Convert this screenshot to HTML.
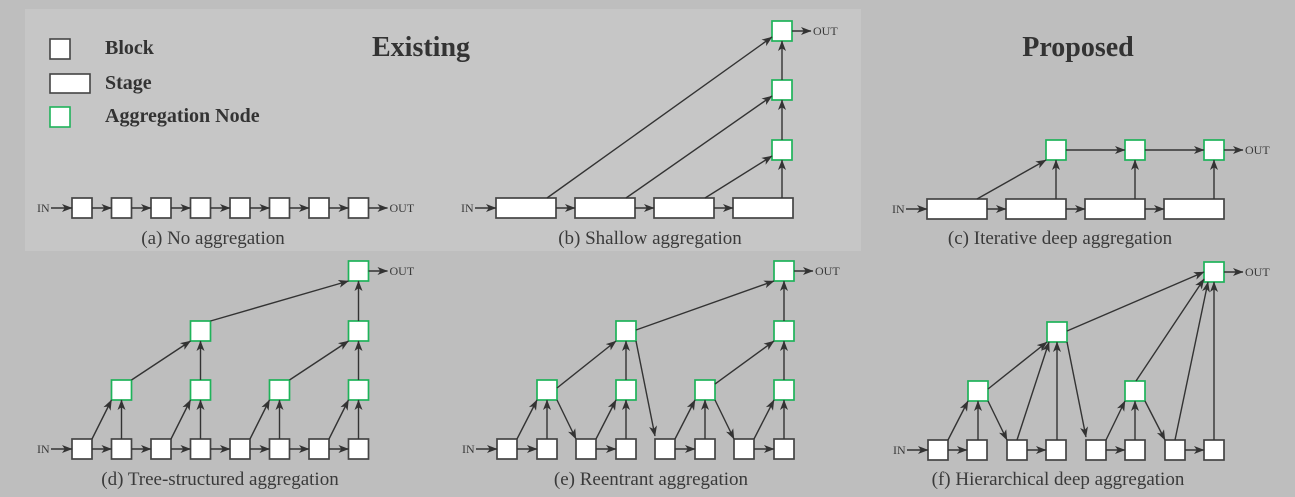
<!DOCTYPE html>
<html><head><meta charset="utf-8">
<style>
html,body{margin:0;padding:0;background:#bebebe;}
svg{display:block;}
text{font-family:"Liberation Serif",serif;fill:#3a3a3a;}
</style></head>
<body>
<svg id="fig" width="1295" height="497" viewBox="0 0 1295 497" xmlns="http://www.w3.org/2000/svg">
<defs>
<marker id="ah" markerUnits="userSpaceOnUse" markerWidth="12" markerHeight="9" refX="10" refY="4.5" orient="auto">
<path d="M0,0.5 L10.5,4.5 L0,8.5 L2.8,4.5 z" fill="#333"/>
</marker>
</defs>
<rect x="0" y="0" width="1295" height="497" fill="#bebebe"/>
<rect x="25" y="9" width="836" height="242" fill="#c6c6c6"/>
<text x="421" y="56" font-size="28" font-weight="bold" text-anchor="middle" style="fill:#333">Existing</text>
<text x="1078" y="56" font-size="28" font-weight="bold" text-anchor="middle" style="fill:#333">Proposed</text>
<g>
<rect x="50" y="39" width="20" height="20" fill="#fff" stroke="#444" stroke-width="1.6"/>
<text x="105" y="54" font-size="20" font-weight="bold" style="fill:#333">Block</text>
<rect x="50" y="74" width="40" height="19" fill="#fff" stroke="#444" stroke-width="1.6"/>
<text x="105" y="89" font-size="20" font-weight="bold" style="fill:#333">Stage</text>
<rect x="50" y="107" width="20" height="20" fill="#fff" stroke="#1fb35a" stroke-width="1.6"/>
<text x="105" y="122" font-size="20" font-weight="bold" style="fill:#333">Aggregation Node</text>
</g>
<g id="diagrams"></g>
</svg>
<script>
const NS='http://www.w3.org/2000/svg';
const root=document.getElementById('diagrams');
const blockXs=[72,111.5,151,190.5,230,269.5,309,348.5];
const rowBlocksA=198, rowBlocksD=439;
const stageXsB=[496,575,654,733];
const stageXsC=[927,1006,1085,1164];
const blockXsE=[497,537,576,616,655,695,734,774];
const blockXsF=[928,967,1007,1046,1086,1125,1165,1204];
const captions=[
 ['caption-a','(a) No aggregation',213,244],
 ['caption-b','(b) Shallow aggregation',650,244],
 ['caption-c','(c) Iterative deep aggregation',1060,244],
 ['caption-d','(d) Tree-structured aggregation',220,485],
 ['caption-e','(e) Reentrant aggregation',651,485],
 ['caption-f','(f) Hierarchical deep aggregation',1058,485]
];
function mk(tag,attrs,parent){const e=document.createElementNS(NS,tag);for(const k in attrs)e.setAttribute(k,attrs[k]);(parent||root).appendChild(e);return e;}
function box(g,x,y,w,h,green,name){
 const r=mk('rect',{x:x,y:y,width:w,height:h,fill:'#fff',stroke:green?'#1fb35a':'#444','stroke-width':1.7},g);
 
 
 return {x:x,y:y,w:w,h:h};
}
function arrow(g,x1,y1,x2,y2){
 const l=mk('line',{x1:x1,y1:y1,x2:x2,y2:y2,stroke:'#333','stroke-width':1.4,'marker-end':'url(#ah)'},g);
 
 
}
function txt(g,s,x,y,size,anchor){
 const t=mk('text',{x:x,y:y,'font-size':size,'text-anchor':anchor||'start'},g);t.textContent=s;
 
 
 return t;
}
const H=(g,a,b)=>arrow(g,a.x+a.w,a.y+a.h/2,b.x,b.y+b.h/2);
const V=(g,a,b)=>{const cx=b.x+b.w/2;arrow(g,cx,a.y,cx,b.y+b.h);};
const UR=(g,a,b)=>arrow(g,a.x+a.w,a.y,b.x,b.y+b.h);
const DR=(g,a,b)=>arrow(g,a.x+a.w,a.y+a.h,b.x,b.y);
function IN(g,b){txt(g,'IN',b.x-35,b.y+14,12);arrow(g,b.x-21,b.y+b.h/2,b.x,b.y+b.h/2);}
function OUT(g,b){arrow(g,b.x+b.w,b.y+b.h/2,b.x+b.w+19,b.y+b.h/2);txt(g,'OUT',b.x+b.w+21,b.y+b.h/2+4,12);}
function group(name){const g=mk('g',{});return g;}

// (a)
{const g=group('diagram-no-aggregation');
 const bs=blockXs.map((x,i)=>box(g,x,rowBlocksA,20,20,false,'block-'+i));
 IN(g,bs[0]);for(let i=0;i<7;i++)H(g,bs[i],bs[i+1]);OUT(g,bs[7]);}
// (b)
{const g=group('diagram-shallow-aggregation');
 const st=stageXsB.map((x,i)=>box(g,x,198,60,20,false,'stage-'+i));
 const n=[140,80,21].map((y,i)=>box(g,772,y,20,20,true,'agg-node-'+i));
 IN(g,st[0]);for(let i=0;i<3;i++)H(g,st[i],st[i+1]);
 V(g,st[3],n[0]);V(g,n[0],n[1]);V(g,n[1],n[2]);
 for(let i=0;i<3;i++)arrow(g,st[2-i].x+51,198,n[i].x,n[i].y+n[i].h-4);
 OUT(g,n[2]);}
// (c)
{const g=group('diagram-iterative-deep-aggregation');
 const st=stageXsC.map((x,i)=>box(g,x,199,60,20,false,'stage-'+i));
 const n=[1046,1125,1204].map((x,i)=>box(g,x,140,20,20,true,'agg-node-'+i));
 IN(g,st[0]);for(let i=0;i<3;i++)H(g,st[i],st[i+1]);
 arrow(g,st[0].x+50,199,n[0].x,n[0].y+n[0].h);
 for(let i=0;i<3;i++)V(g,st[i+1],n[i]);
 H(g,n[0],n[1]);H(g,n[1],n[2]);OUT(g,n[2]);}
// (d)
{const g=group('diagram-tree-structured-aggregation');
 const b=blockXs.map((x,i)=>box(g,x,rowBlocksD,20,20,false,'block-'+i));
 const l1=[1,3,5,7].map((k,i)=>box(g,blockXs[k],380,20,20,true,'level1-node-'+i));
 const l2=[3,7].map((k,i)=>box(g,blockXs[k],321,20,20,true,'level2-node-'+i));
 const t=box(g,blockXs[7],261,20,20,true,'root-node');
 IN(g,b[0]);for(let i=0;i<7;i++)H(g,b[i],b[i+1]);
 for(let i=0;i<4;i++){UR(g,b[2*i],l1[i]);V(g,b[2*i+1],l1[i]);}
 UR(g,l1[0],l2[0]);V(g,l1[1],l2[0]);UR(g,l1[2],l2[1]);V(g,l1[3],l2[1]);
 UR(g,l2[0],t);V(g,l2[1],t);OUT(g,t);}
// (e)
{const g=group('diagram-reentrant-aggregation');
 const b=blockXsE.map((x,i)=>box(g,x,439,20,20,false,'block-'+i));
 const l1=[1,3,5,7].map((k,i)=>box(g,blockXsE[k],380,20,20,true,'level1-node-'+i));
 const l2=[3,7].map((k,i)=>box(g,blockXsE[k],321,20,20,true,'level2-node-'+i));
 const t=box(g,blockXsE[7],261,20,20,true,'root-node');
 IN(g,b[0]);for(let i=0;i<4;i++)H(g,b[2*i],b[2*i+1]);
 for(let i=0;i<4;i++){UR(g,b[2*i],l1[i]);V(g,b[2*i+1],l1[i]);}
 DR(g,l1[0],b[2]);DR(g,l1[2],b[6]);
 arrow(g,l2[0].x+l2[0].w,l2[0].y+l2[0].h,b[4].x,b[4].y-3);
 arrow(g,l1[0].x+20,l1[0].y+8,l2[0].x,l2[0].y+20);V(g,l1[1],l2[0]);
 arrow(g,l1[2].x+20,l1[2].y+4,l2[1].x,l2[1].y+20);V(g,l1[3],l2[1]);
 arrow(g,l2[0].x+20,l2[0].y+9,t.x,t.y+20);V(g,l2[1],t);OUT(g,t);}
// (f)
{const g=group('diagram-hierarchical-deep-aggregation');
 const b=blockXsF.map((x,i)=>box(g,x,440,20,20,false,'block-'+i));
 const l1a=box(g,968,381,20,20,true,'level1-node-0');
 const l1b=box(g,1125,381,20,20,true,'level1-node-1');
 const l2=box(g,1047,322,20,20,true,'level2-node');
 const t=box(g,1204,262,20,20,true,'root-node');
 IN(g,b[0]);for(let i=0;i<4;i++)H(g,b[2*i],b[2*i+1]);
 UR(g,b[0],l1a);V(g,b[1],l1a);DR(g,l1a,b[2]);
 UR(g,b[4],l1b);V(g,b[5],l1b);DR(g,l1b,b[6]);
 arrow(g,l1a.x+20,l1a.y+8,l2.x,l2.y+20);
 arrow(g,b[2].x+10,b[2].y,l2.x+2,l2.y+20);
 V(g,b[3],l2);
 arrow(g,l2.x+20,l2.y+20,b[4].x,b[4].y-3);
 arrow(g,l2.x+20,l2.y+9,t.x,t.y+10);
 arrow(g,l1b.x+11,l1b.y,t.x,t.y+17);
 arrow(g,b[6].x+10,b[6].y,t.x+4,t.y+20);
 V(g,b[7],t);OUT(g,t);}

const cg=group('captions');
captions.forEach(c=>{const t=mk('text',{x:c[2],y:c[3],'font-size':19,'text-anchor':'middle'},cg);t.textContent=c[1];
 
 });
</script>
</body></html>
